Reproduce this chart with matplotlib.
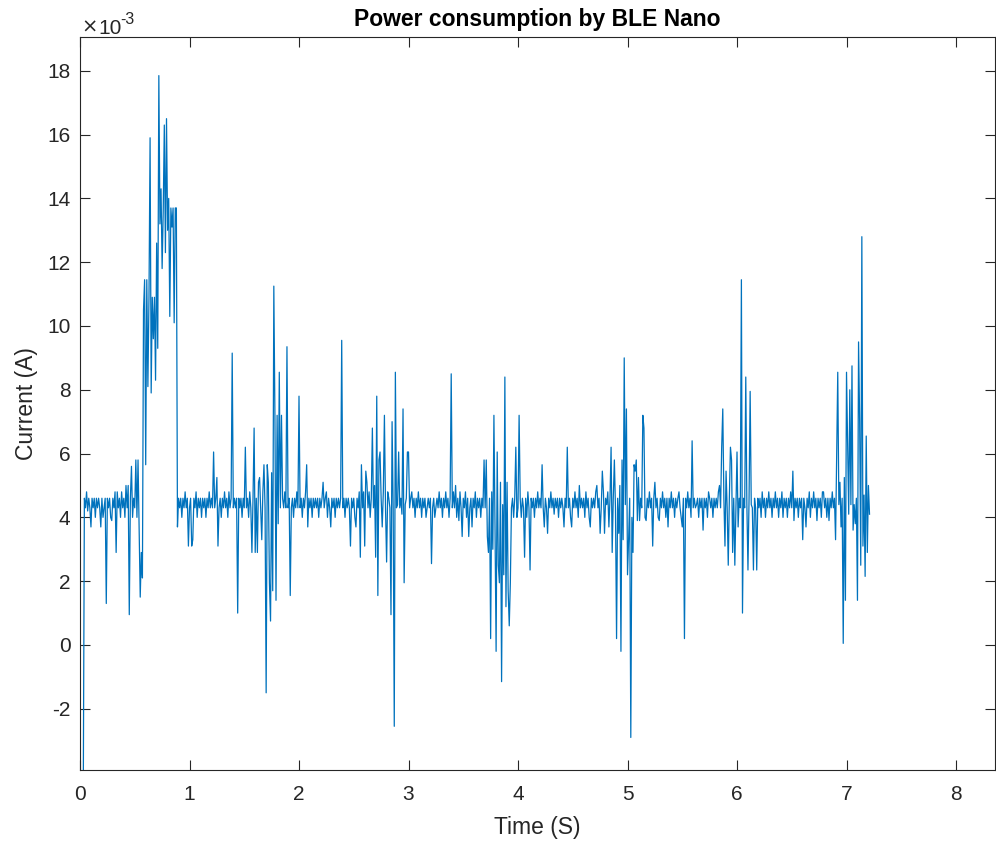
import numpy as np
import matplotlib
matplotlib.use("Agg")
import matplotlib.pyplot as plt
from matplotlib.ticker import FuncFormatter
from matplotlib.transforms import offset_copy

# Current readings in mA, sampled every 0.01 s, one list per second
sec0 = [-4.6, -4.6, -4.6, -4.6, 4.6, 4.3, 4.8, 4.2, 4.6, 4.3,
        3.7, 4.6, 4.3, 4.6, 4.0, 4.6, 4.3, 4.6, 4.3, 3.7,
        4.6, 4.0, 4.3, 4.6, 1.3, 4.6, 4.3, 4.6, 4.0, 3.9,
        4.6, 4.3, 4.8, 2.9, 4.8, 4.3, 4.6, 4.0, 4.8, 4.3,
        4.6, 4.0, 5.0, 4.3, 5.0, 0.95, 4.6, 5.6, 4.0, 4.6,
        4.3, 5.8, 4.0, 5.8, 3.7, 1.5, 2.9, 2.1, 10.5, 11.45,
        5.65, 11.45, 8.1, 10.9, 15.9, 7.9, 10.9, 9.6, 10.9, 8.3,
        12.6, 9.3, 17.85, 13.2, 14.3, 11.8, 13.6, 16.3, 12.3, 16.5,
        13.0, 14.0, 10.3, 13.7, 13.1, 13.7, 10.1, 13.7, 13.7, 3.7,
        4.6, 4.3, 4.6, 4.0, 4.6, 4.3, 4.8, 4.3, 4.6, 3.1]
sec1 = [4.3, 4.6, 3.1, 3.3, 4.6, 4.3, 4.8, 4.0, 4.6, 4.3,
        4.6, 4.0, 4.6, 4.3, 4.6, 4.0, 4.6, 4.3, 4.8, 4.3,
        4.6, 4.3, 6.05, 4.3, 4.6, 5.25, 3.1, 4.3, 4.6, 4.0,
        4.6, 4.3, 4.8, 4.3, 4.6, 4.0, 4.8, 4.3, 4.6, 9.15,
        4.3, 4.6, 4.3, 4.6, 1.0, 4.6, 4.3, 4.6, 4.0, 4.6,
        4.3, 6.2, 4.3, 4.6, 4.0, 4.8, 4.3, 2.9, 4.6, 6.8,
        2.9, 4.6, 2.9, 5.1, 5.25, 4.3, 3.3, 4.8, 5.65, 4.3,
        -1.5, 5.65, 5.1, 1.95, 0.75, 5.4, 1.7, 11.25, 7.2, 1.4,
        7.2, 3.8, 8.55, 4.3, 7.2, 4.6, 4.3, 4.8, 4.3, 9.35,
        4.3, 4.6, 1.55, 4.3, 4.6, 4.0, 4.6, 4.3, 4.8, 4.3]
sec2 = [7.8, 4.3, 4.6, 4.0, 4.6, 4.3, 4.8, 5.65, 3.7, 4.6,
        4.3, 4.6, 4.0, 4.6, 4.3, 4.6, 4.3, 4.6, 4.0, 4.6,
        4.3, 4.6, 5.1, 4.3, 4.6, 4.8, 4.0, 4.6, 4.3, 3.7,
        4.6, 4.3, 4.6, 4.0, 4.6, 4.3, 4.6, 4.3, 4.6, 9.55,
        4.3, 4.6, 4.0, 4.6, 4.3, 4.6, 4.3, 3.1, 4.6, 4.3,
        4.6, 4.0, 3.7, 4.6, 4.3, 4.8, 2.75, 5.65, 4.3, 4.8,
        3.1, 5.45, 5.1, 4.3, 4.8, 4.0, 4.6, 6.8, 4.3, 5.0,
        2.75, 7.8, 1.55, 5.8, 6.05, 4.6, 3.7, 4.8, 7.2, 4.3,
        2.6, 4.8, 4.6, 4.3, 0.95, 7.0, 4.3, -2.55, 8.55, 4.3,
        4.4, 6.05, 4.3, 4.6, 4.1, 7.4, 1.95, 4.4, 4.6, 6.05]
sec3 = [6.05, 4.3, 4.6, 4.8, 4.3, 4.6, 4.0, 4.6, 4.3, 4.8,
        4.3, 4.6, 4.0, 4.6, 4.3, 4.6, 4.0, 4.3, 4.6, 4.3,
        4.6, 2.55, 4.3, 4.6, 4.0, 4.3, 4.6, 4.3, 4.8, 4.3,
        4.6, 4.0, 4.6, 4.3, 4.8, 4.3, 4.6, 4.0, 4.6, 8.5,
        4.3, 4.8, 4.3, 5.0, 4.0, 4.6, 3.9, 4.8, 4.3, 3.4,
        4.6, 4.3, 4.8, 4.0, 4.6, 3.4, 4.3, 4.6, 3.7, 4.6,
        4.3, 4.8, 4.0, 4.6, 4.3, 4.6, 4.0, 4.6, 4.3, 5.8,
        4.3, 5.8, 3.4, 2.9, 4.6, 0.2, 4.8, 3.0, 7.2, 3.7,
        -0.2, 6.05, 2.5, 1.95, 5.1, -1.15, 4.4, 2.2, 8.4, 1.2,
        5.1, 1.7, 0.6, 1.95, 4.3, 4.6, 4.0, 4.6, 6.2, 4.0]
sec4 = [4.3, 7.2, 4.6, 4.0, 4.6, 4.3, 2.75, 4.6, 4.0, 4.8,
        4.3, 2.35, 4.6, 4.3, 4.6, 4.0, 4.6, 4.3, 4.8, 4.3,
        4.6, 4.3, 5.65, 4.3, 3.7, 4.6, 4.3, 3.5, 4.6, 4.3,
        4.8, 4.3, 4.6, 4.1, 4.6, 4.3, 4.6, 4.0, 4.6, 4.3,
        4.6, 4.3, 3.7, 4.6, 4.3, 6.2, 4.3, 4.6, 4.0, 3.7,
        4.6, 4.3, 4.8, 4.3, 4.6, 4.0, 5.0, 4.3, 4.6, 4.3,
        4.6, 4.0, 4.8, 4.3, 4.6, 4.0, 3.7, 4.6, 4.3, 4.6,
        4.3, 4.8, 5.0, 4.3, 4.6, 3.5, 4.3, 5.45, 4.8, 3.5,
        4.6, 4.4, 4.8, 3.7, 4.6, 6.2, 2.9, 4.6, 5.8, 4.3,
        0.2, 4.6, 3.5, 5.0, -0.2, 5.8, 3.3, 9.0, 4.4, 7.4]
sec5 = [2.2, 3.3, 4.6, -2.9, 4.0, 2.9, 5.65, 5.45, 5.8, 3.9,
        5.25, 3.9, 4.6, 4.3, 7.2, 6.8, 4.0, 3.9, 4.6, 4.3,
        4.8, 4.3, 4.6, 3.1, 4.6, 5.1, 4.3, 4.6, 4.0, 3.9,
        4.6, 4.3, 4.8, 4.3, 4.6, 4.0, 4.6, 3.7, 4.6, 4.3,
        4.8, 4.3, 4.6, 4.0, 4.6, 4.3, 4.6, 4.8, 4.3, 4.0,
        3.7, 4.6, 0.2, 4.6, 4.3, 4.8, 4.3, 4.6, 4.0, 6.4,
        4.3, 4.6, 4.3, 4.4, 4.6, 4.0, 4.6, 4.3, 4.6, 3.6,
        4.6, 4.3, 4.6, 4.0, 4.8, 4.6, 4.3, 4.6, 4.0, 4.6,
        4.3, 4.6, 4.3, 4.8, 5.0, 4.3, 6.2, 7.4, 4.6, 3.1,
        5.45, 4.3, 2.5, 4.6, 6.2, 5.8, 2.9, 4.6, 2.5, 4.3]
sec6 = [6.05, 3.7, 4.6, 4.3, 11.45, 1.0, 4.6, 4.3, 8.4, 4.4,
        2.35, 4.6, 7.95, 4.4, 4.3, 2.35, 4.6, 4.3, 2.35, 4.6,
        4.3, 4.6, 4.0, 4.8, 4.3, 4.6, 4.0, 4.6, 4.3, 4.8,
        4.3, 4.6, 4.0, 4.6, 4.3, 4.8, 4.3, 4.6, 4.0, 4.6,
        4.3, 4.8, 4.0, 4.6, 4.3, 4.6, 4.0, 4.6, 4.3, 4.8,
        4.3, 5.45, 3.9, 4.6, 4.3, 4.6, 4.0, 4.6, 4.3, 4.6,
        3.3, 4.6, 4.3, 3.7, 4.6, 4.3, 4.8, 4.0, 4.6, 4.3,
        4.8, 4.3, 4.6, 3.9, 4.6, 4.3, 4.6, 4.0, 4.8, 4.8,
        4.3, 4.6, 4.0, 4.6, 3.9, 4.6, 4.3, 4.8, 4.3, 4.6,
        3.3, 6.05, 8.55, 4.4, 5.1, 3.7, 4.6, 0.05, 5.25, 1.4]
sec7 = [8.55, 6.25, 4.1, 8.0, 4.4, 8.75, 3.6, 4.4, 3.8, 4.6,
        1.4, 9.5, 7.0, 2.5, 12.8, 3.1, 4.7, 2.15, 6.55, 2.9,
        5.0, 4.1]

sample_step = 0.01  # s
x_ticks = [0, 1, 2, 3, 4, 5, 6, 7, 8]
y_ticks_mA = [-2, 0, 2, 4, 6, 8, 10, 12, 14, 16, 18]

current_A = np.array(sec0 + sec1 + sec2 + sec3 + sec4 + sec5 + sec6 + sec7) * 1e-3
time_s = np.arange(len(current_A)) * sample_step

plt.rcParams['font.family'] = ['Liberation Sans', 'DejaVu Sans']
plt.rcParams['axes.unicode_minus'] = False

text_col = '#262626'
fig = plt.figure(figsize=(9.96, 8.43), dpi=100)
ax = fig.add_axes([80/996, 1 - 770/843, 915/996, 733/843])
ax.plot(time_s, current_A, color='#0072BD', lw=0.9)

ax.set_xlim(0, 8.356)
ax.set_ylim(-3.92e-3, 19.06e-3)
ax.set_xticks(x_ticks)
ax.set_yticks([v * 1e-3 for v in y_ticks_mA])
ax.yaxis.set_major_formatter(FuncFormatter(lambda v, p: f"{v*1e3:.0f}"))
ax.tick_params(direction='in', top=True, right=True, length=7, width=0.8,
               labelsize=15, colors=text_col, labelcolor=text_col)
ax.tick_params(axis='x', pad=10.8)
ax.tick_params(axis='y', pad=6.8)
for s in ax.spines.values():
    s.set_color(text_col)
    s.set_linewidth(0.8)

ax.set_xlabel('Time (S)', fontsize=16.5, color=text_col, labelpad=8.3)
ax.set_ylabel('Current (A)', fontsize=16.5, color=text_col, labelpad=6.5)
ax.set_title('Power consumption by BLE Nano', fontsize=16.5, fontweight='bold',
             color='black', pad=8.2)

t_x = offset_copy(ax.transAxes, fig=fig, x=0.8, y=3.0, units='points')
ax.text(0.0, 1.0, '\u00d7', transform=t_x, fontsize=14, color=text_col,
        ha='left', va='baseline', family='DejaVu Sans')
t_10 = offset_copy(ax.transAxes, fig=fig, x=13.0, y=2.5, units='points')
ax.text(0.0, 1.0, '10', transform=t_10, fontsize=15, color=text_col,
        ha='left', va='baseline')
t_sup = offset_copy(ax.transAxes, fig=fig, x=29.0, y=9.5, units='points')
ax.text(0.0, 1.0, '-3', transform=t_sup, fontsize=11.5, color=text_col,
        ha='left', va='baseline')

fig.savefig('out.png', dpi=100)
